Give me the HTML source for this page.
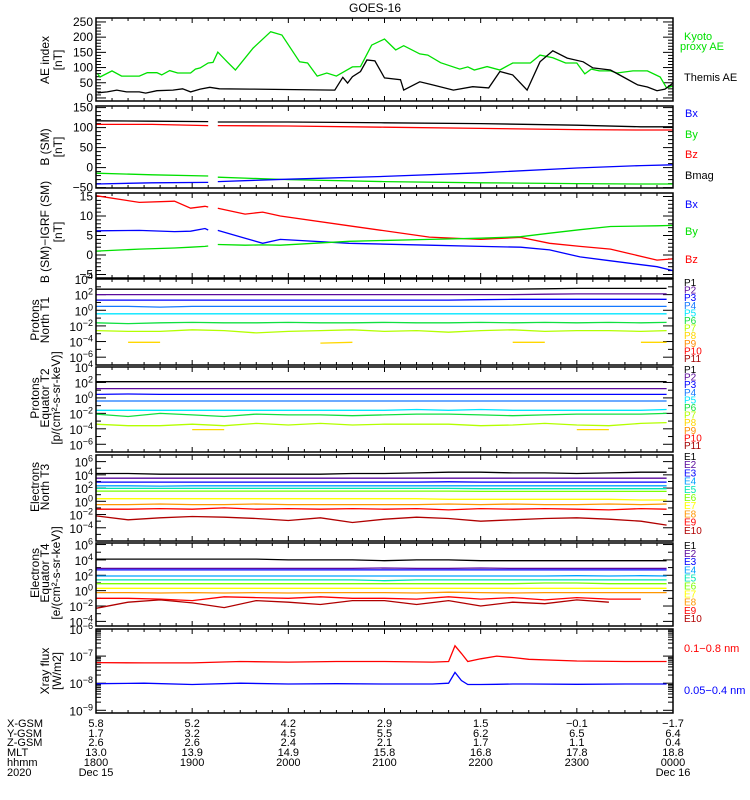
<!DOCTYPE html>
<html><head><meta charset="utf-8"><title>GOES-16</title>
<style>
html,body{margin:0;padding:0;background:#fff;}
svg{display:block;font-family:"Liberation Sans",sans-serif;}
</style></head>
<body>
<svg id="chart" width="750" height="800" viewBox="0 0 750 800" xmlns="http://www.w3.org/2000/svg">
<rect x="0" y="0" width="750" height="800" fill="#fff"/>
<text x="375" y="12" text-anchor="middle" font-size="12">GOES-16</text>
</svg>
<script>
// ---------- DATA (minutes since 18:00 UT, Dec 15 2020) ----------
const tKyoto = [1,2.5,10,16,27,32,38,41,46,51,59,62,65,70,73,76,82,87,98,109,116,127,132,138,144,150,160,165,172,180,187,192,202,207,215,227,232,236,244,252,260,271,277,285,293,300,305,309,314,321,325,335,344,352,356,360];
const kyotoAE = [79,69,89,72,72,83,83,76,90,82,82,95,99,115,117,151,118,92,164,218,207,119,115,72,82,72,102,103,174,194,158,172,145,141,116,95,102,92,103,92,115,115,141,132,115,115,79,95,89,89,82,89,89,69,33,39];
const tThemis = [1,7,13,19,27,31,38,48,54,59,65,71,77,96,149,154,157,160,165,169,174,180,190,192,202,210,223,235,245,252,260,269,277,285,294,304,310,321,329,338,344,350,355,360];
const themisAE = [17,20,26,20,20,16,24,26,30,20,29,35,30,29,26,68,49,70,87,125,122,66,60,26,53,43,26,37,33,87,76,26,119,155,131,119,99,92,69,43,36,24,29,49];

const tB = [0,35,70,71,76,120,180,240,300,340,360];
const bmagSM = [117,116,115,null,114,114,112,110,106,102,102];
const bzSM = [108,108,105,null,105,104,101,98,95,94,94];
const bySM = [-14,-18,-21,null,-24,-30,-35,-38,-40,-41,-41];
const bxSM = [-41,-38,-37,null,-35,-29,-22,-13,-1,5,7];

const tD = [0,27,49,59,68,70,71,76,93,104,115,158,208,240,265,283,302,321,350,360];
const dBz = [15.2,13.5,13.8,12,12.5,12.3,null,12,10.5,11,10,7.5,4.6,4,4.5,3,2.2,1.5,-1.3,-1];
const dBx = [6.2,6.3,6,6.1,6.8,6.4,null,6.3,4.3,3,4,3,2.5,2.2,2,1.3,-0.5,-1.5,-3,-4];
const dBy = [1,1.5,1.8,2,2.2,2.3,null,2.7,2.5,2.6,2.5,3.5,4,4.3,4.7,5.6,6.5,7.3,7.5,7.6];

// channel time grid, every 20 minutes (log10 flux values)
const tG = [0,20,40,60,80,100,120,140,160,180,200,220,240,260,280,300,320,340,356];
const N = null;
const protT1 = [
 [2.7,2.7,2.7,2.7,2.7,2.7,2.7,2.7,2.7,2.7,2.7,2.7,2.7,2.7,2.75,2.8,2.8,2.8,2.8],
 [2.0,2.0,2.0,2.0,2.0,2.0,2.0,2.0,2.0,2.0,2.0,2.0,2.0,2.0,2.05,2.1,2.1,2.1,2.1],
 [1.3,1.3,1.3,1.3,1.3,1.3,1.3,1.3,1.3,1.3,1.3,1.3,1.35,1.4,1.4,1.4,1.4,1.4,1.4],
 [0.5,0.5,0.4,0.5,0.5,0.5,0.5,0.5,0.5,0.5,0.5,0.5,0.5,0.5,0.5,0.5,0.5,0.5,0.5],
 [-0.45,-0.45,-0.45,-0.45,-0.45,-0.45,-0.45,-0.45,-0.45,-0.45,-0.45,-0.45,-0.45,-0.45,-0.45,-0.45,-0.45,-0.45,-0.45],
 [-1.6,-1.7,-1.6,-1.55,-1.6,-1.6,-1.55,-1.6,-1.6,-1.55,-1.6,-1.6,-1.55,-1.6,-1.55,-1.6,-1.55,-1.6,-1.55],
 [-2.6,-2.7,-2.7,-2.5,-2.6,-2.9,-2.7,-2.6,-2.5,-2.7,-2.6,-2.8,-2.6,-2.5,-2.7,-2.6,-2.6,-2.7,-2.6],
 [N,-4.1,-4.1,N,N,N,N,-4.2,-4.1,N,N,N,N,-4.1,-4.1,N,N,-4.1,-4.1],
 [N,N,N,N,N,N,N,N,N,N,N,N,N,N,N,N,N,N,N],
 [N,N,N,N,N,N,N,N,N,N,N,N,N,N,N,N,N,N,N],
 [N,N,N,N,N,N,N,N,N,N,N,N,N,N,N,N,N,N,N]];
const protT2 = [
 [2.1,2.1,2.1,2.1,2.1,2.1,2.1,2.1,2.1,2.1,2.1,2.1,2.1,2.1,2.1,2.1,2.1,2.1,2.1],
 [1.2,1.2,1.2,1.2,1.2,1.2,1.2,1.2,1.2,1.2,1.2,1.2,1.2,1.2,1.2,1.2,1.2,1.2,1.2],
 [0.45,0.5,0.45,0.45,0.45,0.45,0.45,0.45,0.45,0.45,0.45,0.45,0.45,0.45,0.45,0.45,0.45,0.45,0.45],
 [-0.4,-0.4,-0.4,-0.4,-0.4,-0.4,-0.4,-0.4,-0.4,-0.4,-0.4,-0.4,-0.4,-0.4,-0.4,-0.4,-0.4,-0.4,-0.4],
 [-1.6,-1.6,-1.6,-1.6,-1.6,-1.6,-1.6,-1.6,-1.6,-1.6,-1.5,-1.6,-1.5,-1.6,-1.6,-1.6,-1.6,-1.6,-1.5],
 [-2.1,-2.4,-2.0,-2.2,-2.4,-2.1,-2.2,-2.2,-2.3,-2.2,-2.1,-2.1,-2.2,-2.3,-2.2,-2.1,-2.1,-2.1,-2.0],
 [-3.4,-3.6,-3.6,-3.4,-3.6,-3.3,-3.5,-3.3,-3.5,-3.4,-3.4,-3.4,-3.6,-3.5,-3.3,-3.5,-3.6,-3.3,-3.2],
 [N,N,N,-4.1,-4.1,N,N,N,N,N,N,N,N,N,N,-4.1,-4.1,N,N],
 [N,N,N,N,N,N,N,N,N,N,N,N,N,N,N,N,N,N,N],
 [N,N,N,N,N,N,N,N,N,N,N,N,N,N,N,N,N,N,N],
 [N,N,N,N,N,N,N,N,N,N,N,N,N,N,N,N,N,N,N]];
const elecT3 = [
 [4.2,4.2,4.1,4.1,4.1,4.1,4.1,4.1,4.2,4.2,4.3,4.4,4.4,4.3,4.3,4.2,4.3,4.4,4.4],
 [3.5,3.5,3.5,3.5,3.5,3.5,3.5,3.5,3.5,3.5,3.5,3.5,3.5,3.5,3.5,3.5,3.5,3.5,3.5],
 [2.9,2.9,2.9,2.9,2.9,2.9,2.9,2.9,2.9,2.9,2.9,2.95,2.9,2.9,2.9,2.9,2.9,2.9,2.9],
 [2.35,2.35,2.3,2.35,2.35,2.35,2.35,2.35,2.35,2.35,2.35,2.35,2.35,2.35,2.35,2.35,2.35,2.35,2.35],
 [1.95,1.95,1.95,1.95,1.95,1.95,1.95,1.95,1.95,1.95,1.95,1.95,1.9,1.9,1.9,1.9,1.9,1.9,1.9],
 [1.55,1.55,1.55,1.55,1.55,1.55,1.55,1.55,1.55,1.55,1.55,1.55,1.5,1.5,1.5,1.5,1.5,1.5,1.5],
 [0.4,0.4,0.4,0.4,0.4,0.4,0.4,0.4,0.4,0.4,0.4,0.3,0.3,0.3,0.3,0.3,0.3,0.2,0.2],
 [-0.5,-0.5,-0.4,-0.5,-0.5,-0.4,-0.5,-0.5,-0.5,-0.5,-0.5,-0.4,-0.5,-0.4,-0.5,-0.5,-0.4,-0.5,-0.4],
 [-1.2,-1.2,-1.1,-1.2,-1.0,-1.2,-1.1,-1.2,-1.1,-1.2,-1.1,-1.3,-1.1,-1.2,-1.1,-1.2,-1.3,-1.1,-1.2],
 [-2.2,-2.8,-2.5,-2.3,-2.4,-2.6,-2.9,-2.5,-3.2,-2.7,-2.4,-2.6,-3.0,-2.8,-2.6,-2.5,-2.7,-3.0,-3.6]];
const elecT4 = [
 [4.1,4.1,4.1,4.1,4.1,4.1,4.0,4.0,4.0,3.9,4.0,4.0,3.9,3.9,3.9,3.9,3.9,3.9,3.9],
 [2.9,2.9,2.9,2.9,2.9,2.9,2.9,2.9,2.9,2.95,2.9,2.9,2.95,2.9,2.9,2.9,2.9,2.9,2.9],
 [2.7,2.7,2.7,2.7,2.7,2.7,2.7,2.7,2.7,2.7,2.7,2.7,2.7,2.7,2.7,2.7,2.7,2.7,2.7],
 [1.9,1.9,1.9,1.9,1.9,1.9,1.9,1.9,1.9,1.9,1.9,1.9,1.9,1.9,1.9,1.95,1.9,1.95,1.9],
 [1.4,1.4,1.4,1.4,1.4,1.4,1.4,1.4,1.4,1.3,1.4,1.4,1.4,1.4,1.4,1.4,1.4,1.4,1.4],
 [0.9,0.9,0.9,0.9,0.9,0.9,0.9,0.9,0.9,0.9,0.9,0.9,0.9,0.9,1.0,1.0,0.9,0.9,0.9],
 [0.3,0.3,0.3,0.3,0.3,0.3,0.3,0.3,0.3,0.3,0.3,0.3,0.3,0.3,0.3,0.3,0.3,0.3,0.3],
 [-0.25,-0.25,-0.3,-0.25,-0.3,-0.25,-0.3,-0.25,-0.25,-0.25,-0.3,-0.2,-0.25,-0.3,-0.25,-0.25,-0.25,-0.25,-0.25],
 [-1.0,-1.0,-1.1,-1.3,-0.8,-0.9,-1.0,-0.8,-1.0,-1.0,-1.1,-0.8,-1.1,-0.9,-1.2,-0.9,-1.1,-1.1,N],
 [-2.3,-1.5,-1.2,-1.6,-2.2,-1.3,-1.5,-1.8,-1.3,-1.3,-1.8,-1.3,-2.0,-1.5,-1.7,-1.2,-1.5,N,-2.4]];

const tX = [0,30,60,90,120,150,180,210,220,224,228,232,240,250,260,270,300,330,356];
const xrayLong = [-7.24,-7.25,-7.25,-7.2,-7.22,-7.2,-7.2,-7.22,-7.2,-6.62,-6.9,-7.2,-7.1,-7.0,-7.05,-7.12,-7.18,-7.2,-7.2];
const xrayShort = [-8.02,-8.0,-8.05,-8.0,-8.03,-8.02,-8.03,-8.03,-8.0,-7.6,-7.9,-8.05,-8.05,-8.04,-8.03,-8.03,-8.04,-8.03,-8.03];

const hourLabels = ["1800","1900","2000","2100","2200","2300","0000"];
const xgsm = ["5.8","5.2","4.2","2.9","1.5","-0.1","-1.7"];
const ygsm = ["1.7","3.2","4.5","5.5","6.2","6.5","6.4"];
const zgsm = ["2.6","2.6","2.4","2.1","1.7","1.1","0.4"];
const mlt = ["13.0","13.9","14.9","15.8","16.8","17.8","18.8"];

// ---------- RENDER ----------
const svg = document.getElementById('chart');
const NS = 'http://www.w3.org/2000/svg';
const X0 = 96, X1 = 673;
function sx(m){ return X0 + m/360*(X1-X0); }
function mk(tag, attrs, parent){ const e=document.createElementNS(NS,tag); for(const k in attrs) e.setAttribute(k,attrs[k]); (parent||svg).appendChild(e); return e; }
function txt(s){ return s.replace(/-/g,'\u2212'); }

function linePath(ts, vs, sy){
  let d='', pen=false;
  for(let i=0;i<ts.length;i++){
    const v=vs[i];
    if(v===null||v===undefined){pen=false;continue;}
    d+=(pen?'L':'M')+sx(ts[i]).toFixed(1)+','+sy(v).toFixed(1);
    pen=true;
  }
  return d;
}

function panel(name, top, bot, vmin, vmax){
  const g = mk('g',{});
  
  
  const sy = v => bot - (v - vmin)/(vmax - vmin)*(bot - top);
  for(let m=0;m<=360;m+=10){
    const L = (m%60===0)?5:3, x=sx(m);
    mk('line',{x1:x,y1:top,x2:x,y2:top+L,stroke:'#000','stroke-width':1},g);
    mk('line',{x1:x,y1:bot,x2:x,y2:bot-L,stroke:'#000','stroke-width':1},g);
  }
  return {g, sy, top, bot};
}
function frame(p){
  const r = mk('rect',{x:X0,y:p.top,width:X1-X0,height:p.bot-p.top,fill:'none',stroke:'#000','stroke-width':1.5},p.g);
  
  
}
function ytick(p, v, L){
  const y=p.sy(v);
  mk('line',{x1:X0,y1:y,x2:X0+L,y2:y,stroke:'#000','stroke-width':1},p.g);
  mk('line',{x1:X1,y1:y,x2:X1-L,y2:y,stroke:'#000','stroke-width':1},p.g);
}
function ylab(p, v, label){
  const t = mk('text',{x:93,y:p.sy(v)+4,'text-anchor':'end','font-size':12},p.g);
  
  
  t.textContent = txt(label);
}
function ylabPow(p, v, exp){
  const t = mk('text',{x:93,y:p.sy(v)+5,'text-anchor':'end','font-size':12},p.g);
  
  
  const a = mk('tspan',{},t); a.textContent='10';
  const b = mk('tspan',{dy:-5,'font-size':9},t); b.textContent=txt(String(exp));
}
function series(p, ts, vs, color, name){
  const e = mk('path',{d:linePath(ts,vs,p.sy),fill:'none',stroke:color,'stroke-width':1.3},p.g);
  
  
}
function ytitle(lines, xs, cy, size){
  lines.forEach((s,i)=>{
    const t = mk('text',{x:xs[i],y:cy,'text-anchor':'middle','font-size':size||12,transform:`rotate(-90 ${xs[i]} ${cy})`});
    
    
    t.textContent = s;
  });
}
function legend(x, y, s, color, size){
  const t = mk('text',{x:x,y:y,'font-size':size||11,fill:color});
  
  
  t.textContent = s;
}

// Panel 1: AE
let p = panel('ae-index-panel', 18, 101, -10, 263);
for(let v=0;v<=250;v+=10) ytick(p,v,(v%50===0)?10:5);
for(let v=0;v<=250;v+=50) ylab(p,v,String(v));
series(p,tKyoto,kyotoAE,'#00e000','kyoto-ae-line');
series(p,tThemis,themisAE,'#000','themis-ae-line');
frame(p);
ytitle(['AE index','[nT]'],[49,62],60);
legend(684,40,'Kyoto','#00e000'); legend(680,50,'proxy AE','#00e000'); legend(684,81,'Themis AE','#000');

// Panel 2: B (SM)
p = panel('b-sm-panel', 106, 188, -51, 154);
for(let v=-50;v<=150;v+=10) ytick(p,v,(v%50===0)?10:5);
for(let v=-50;v<=150;v+=50) ylab(p,v,String(v));
series(p,tB,bmagSM,'#000','bmag-line');
series(p,tB,bzSM,'#ff0000','bz-line');
series(p,tB,bySM,'#00e000','by-line');
series(p,tB,bxSM,'#0000ff','bx-line');
frame(p);
ytitle(['B (SM)','[nT]'],[49,62],147);
legend(685,117,'Bx','#0000ff'); legend(685,138,'By','#00e000'); legend(685,158,'Bz','#ff0000'); legend(685,179,'Bmag','#000');

// Panel 3: B - IGRF
p = panel('b-minus-igrf-panel', 193, 278, -5.9, 15.9);
for(let v=-5;v<=15;v++) ytick(p,v,(v%5===0)?10:5);
for(let v=-5;v<=15;v+=5) ylab(p,v,String(v));
series(p,tD,dBz,'#ff0000','dbz-line');
series(p,tD,dBx,'#0000ff','dbx-line');
series(p,tD,dBy,'#00e000','dby-line');
frame(p);
ytitle(['B (SM)\u2212IGRF (SM)','[nT]'],[49,62],232);
legend(685,208,'Bx','#0000ff'); legend(685,235,'By','#00e000'); legend(685,263,'Bz','#ff0000');

const pColors = ['#000','#5a0a9c','#0000ff','#1478ff','#00e6ff','#10e040','#b4ff00','#ffd700','#ff8c00','#ff0000','#a00000'];
const eColors = ['#000','#5a0a9c','#0000ff','#00a0ff','#00e6b4','#7cff00','#ffff00','#ff9600','#ff0000','#b00000'];

function logPanel(name, top, bot, vmin, vmax, labs, chans, colors, prefix, ly, lstep){
  const pp = panel(name, top, bot, vmin, vmax);
  for(let e=Math.ceil(vmin); e<=Math.floor(vmax); e++) ytick(pp,e,(labs.indexOf(e)>=0)?10:5);
  labs.forEach(e=>ylabPow(pp,e,e));
  chans.forEach((c,i)=>series(pp,tG,c,colors[i],prefix.toLowerCase()+(i+1)+'-line'));
  frame(pp);
  colors.forEach((c,i)=>legend(684,ly+i*lstep,prefix+(i+1),c,10));
  return pp;
}
logPanel('protons-north-t1-panel',279,365,-7,4,[4,2,0,-2,-4,-6],protT1,pColors,'P',286,7.6);
ytitle(['Protons','North T1'],[39,49],320);
logPanel('protons-equator-t2-panel',367,452,-7,4,[4,2,0,-2,-4,-6],protT2,pColors,'P',373,7.6);
ytitle(['Protons','Equator T2','[p/(cm\u00b2-s-sr-keV)]'],[39,49,60],398);
logPanel('electrons-north-t3-panel',455,541,-6,7,[6,4,2,0,-2,-4],elecT3,eColors,'E',460,8.2);
ytitle(['Electrons','North T3'],[39,49],487);
logPanel('electrons-equator-t4-panel',543,626,-4.6,6.2,[6,4,2,0,-2,-4],elecT4,eColors,'E',549,8.1);
ytitle(['Electrons','Equator T4','[e/(cm\u00b2-s-sr-keV)]'],[39,49,60],573);

// Panel 8: X-ray
p = panel('xray-flux-panel', 629, 713, -9.1, -6);
for(let e=-9;e<=-6;e++){ for(let k=1;k<10;k++){ const v=e+Math.log10(k); if(v<=-6) ytick(p,v,k===1?10:5);} }
[-6,-7,-8,-9].forEach(e=>ylabPow(p,e,e));
series(p,tX,xrayLong,'#ff0000','xray-long-line');
series(p,tX,xrayShort,'#0000ff','xray-short-line');
frame(p);
ytitle(['Xray flux','[W/m2]'],[49,61],671);
legend(684,652,'0.1\u22120.8 nm','#ff0000'); legend(684,694,'0.05\u22120.4 nm','#0000ff');

// Bottom annotation rows
const rowY = [727,737,746,756,766,776];
['X-GSM','Y-GSM','Z-GSM','MLT','hhmm','2020'].forEach((s,i)=>{
  const t=mk('text',{x:7,y:rowY[i],'font-size':11});
  
  
  t.textContent=s;
});
[xgsm,ygsm,zgsm,mlt,hourLabels].forEach((arr,r)=>{
  arr.forEach((s,k)=>{
    const t=mk('text',{x:sx(k*60),y:rowY[r],'font-size':11,'text-anchor':'middle'});
    
    
    t.textContent=txt(s);
  });
});
[['Dec 15',0],['Dec 16',360]].forEach(a=>{
  const t=mk('text',{x:sx(a[1]),y:rowY[5],'font-size':11,'text-anchor':'middle'});
  
  
  t.textContent=a[0];
});
</script>
</body></html>
